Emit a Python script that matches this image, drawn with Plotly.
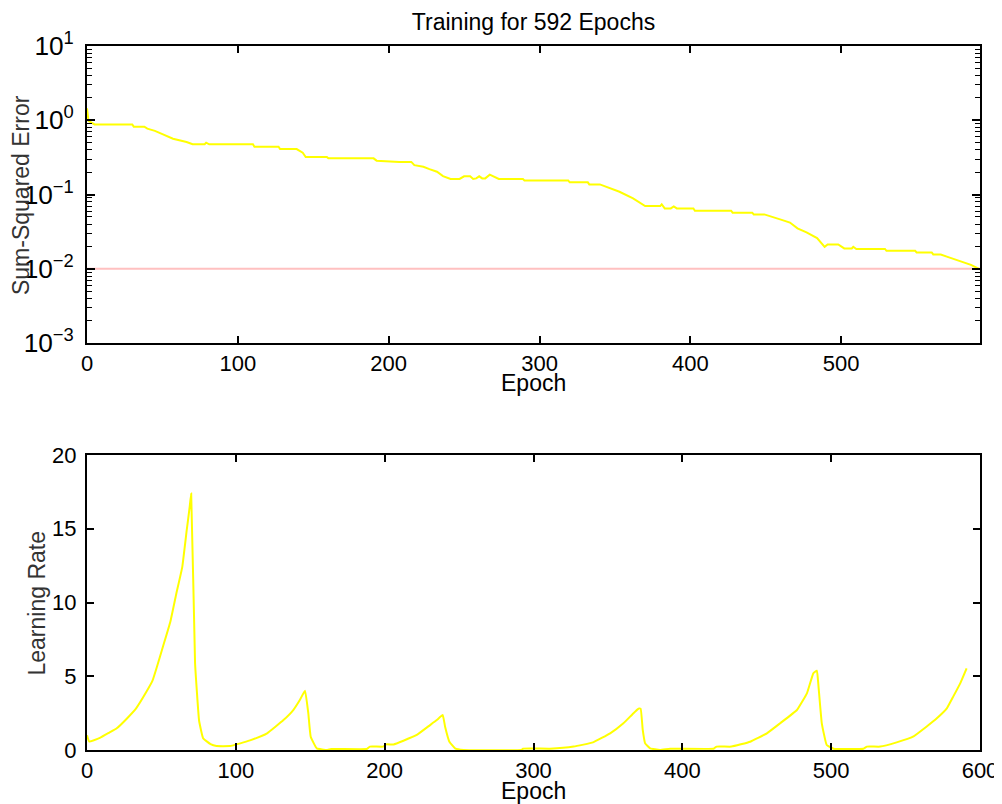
import plotly.graph_objects as go
from plotly.subplots import make_subplots

# Sum-squared error per epoch
err_epochs = [0, 1, 5, 30, 31, 38, 40, 45, 50, 57, 66, 70, 78, 79, 81, 110, 111, 127, 128, 139,
              143, 145, 159, 160, 190, 192, 207, 215, 217, 223, 227, 232, 236, 241, 247, 250, 254,
              256, 258, 260, 262, 264, 267, 270, 273, 289, 290, 319, 320, 332, 333, 340, 347, 353,
              362, 370, 380, 381, 383, 387, 389, 391, 402, 403, 427, 428, 441, 442, 449, 455, 460,
              466, 471, 477, 484, 489, 491, 498, 502, 507, 508, 510, 529, 530, 549, 550, 560, 561,
              566, 570, 575, 580, 586, 592]
err_values = [1.45, 0.98, 0.88, 0.88, 0.82, 0.82, 0.77, 0.72, 0.65, 0.565, 0.51, 0.475, 0.475, 0.50,
              0.475, 0.475, 0.44, 0.44, 0.41, 0.41, 0.366, 0.32, 0.32, 0.307, 0.307, 0.286, 0.275,
              0.275, 0.249, 0.237, 0.22, 0.203, 0.177, 0.162, 0.162, 0.176, 0.176, 0.162, 0.165,
              0.176, 0.165, 0.165, 0.185, 0.175, 0.162, 0.162, 0.155, 0.155, 0.146, 0.146, 0.137,
              0.137, 0.121, 0.109, 0.089, 0.070, 0.070, 0.074, 0.065, 0.065, 0.069, 0.065, 0.065,
              0.0605, 0.0605, 0.057, 0.057, 0.054, 0.054, 0.050, 0.046, 0.042, 0.035, 0.031, 0.026,
              0.0198, 0.0213, 0.0213, 0.0188, 0.0188, 0.0198, 0.0185, 0.0185, 0.0175, 0.0175,
              0.0166, 0.0166, 0.0156, 0.0156, 0.0146, 0.0134, 0.0126, 0.0113, 0.0098]

# Error goal
goal_epochs = [0, 592]
goal_values = [0.01, 0.01]

# Learning rate per epoch
lr_epochs = [0, 1.5, 9, 15, 20, 27, 33, 40, 44, 47, 51, 56, 60, 64, 67, 69, 70, 72.6, 75.3, 78, 83, 87,
             96, 103, 109.5, 121, 132, 138.6, 143, 146.5, 148.7, 150.3, 154.4, 161.5, 164, 188, 190,
             199, 201, 206, 212.6, 221.6, 230.5, 235, 239, 240.6, 243.5, 247.3, 253, 292, 293, 311,
             327, 340, 351.5, 360.4, 367, 370.5, 372, 373.4, 375, 378.4, 385, 391.8, 421, 423, 433,
             445.6, 456.8, 465.7, 477, 483.7, 488, 490.4, 491.5, 493.7, 497, 501.6, 521.7, 524, 533,
             544, 555, 564, 571, 577.7, 582, 586.7, 591]
lr_values = [1.0, 0.57, 0.84, 1.18, 1.47, 2.15, 2.82, 3.96, 4.7, 5.65, 7.0, 8.7, 10.6, 12.4, 14.9, 16.5,
             17.4, 5.9, 2.0, 0.8, 0.4, 0.27, 0.27, 0.45, 0.65, 1.13, 2.03, 2.71, 3.39, 4.02, 2.48,
             0.9, 0.11, 0.0, 0.07, 0.07, 0.23, 0.23, 0.38, 0.38, 0.63, 1.02, 1.69, 2.03, 2.37, 1.58,
             0.56, 0.11, 0.0, 0.0, 0.09, 0.09, 0.23, 0.52, 1.13, 1.81, 2.48, 2.8, 2.8, 1.36, 0.45,
             0.11, 0.0, 0.09, 0.09, 0.23, 0.23, 0.56, 1.13, 1.81, 2.71, 3.84, 5.2, 5.38, 4.3, 1.81,
             0.34, 0.09, 0.09, 0.23, 0.23, 0.52, 0.9, 1.58, 2.15, 2.82, 3.62, 4.52, 5.54]

FONT = "Liberation Sans, Arial, sans-serif"
TICK_SIZE = 22
XTITLE_SIZE = 23
YTITLE_SIZE = 23

fig = make_subplots(rows=2, cols=1, vertical_spacing=0.159)

fig.add_trace(go.Scatter(x=goal_epochs, y=goal_values, mode="lines",
                         line=dict(color="#ffc0c0", width=2), showlegend=False), row=1, col=1)
fig.add_trace(go.Scatter(x=err_epochs, y=err_values, mode="lines",
                         line=dict(color="#ffff00", width=2), showlegend=False), row=1, col=1)
fig.add_trace(go.Scatter(x=lr_epochs, y=lr_values, mode="lines",
                         line=dict(color="#ffff00", width=2, shape="spline", smoothing=0.3),
                         showlegend=False), row=2, col=1)

axis_common = dict(showgrid=False, zeroline=False, showline=True, linecolor="black", linewidth=2,
                   mirror="ticks", ticks="inside", tickcolor="black", tickwidth=1.5, automargin=False,
                   tickfont=dict(family=FONT, size=TICK_SIZE, color="black"))

fig.update_xaxes(**axis_common)
fig.update_yaxes(**axis_common)

fig.update_xaxes(range=[0, 592], tickvals=[0, 100, 200, 300, 400, 500], ticklen=7, row=1, col=1)
fig.update_xaxes(range=[0, 600], tickvals=[0, 100, 200, 300, 400, 500, 600], ticklen=7, row=2, col=1)

fig.update_yaxes(type="log", range=[-3, 1], dtick=1, tick0=0, exponentformat="power", ticklen=8,
                 labelalias={"1": "10<sup>0</sup>", "10": "10<sup>1</sup>"},
                 ticklabelstandoff=7, tickfont=dict(family=FONT, size=21, color="black"),
                 minor=dict(ticks="inside", ticklen=5, tickcolor="black", tickwidth=1.2, showgrid=False),
                 domain=[0.578, 1], row=1, col=1)
fig.update_yaxes(range=[0, 20], tickvals=[0, 5, 10, 15, 20], ticklen=7,
                 ticklabelstandoff=4, domain=[0, 0.419], row=2, col=1)

# Axis titles as annotations for exact placement
titles = [
    dict(text="Epoch", x=0.5, y=0.5213, textangle=0, size=XTITLE_SIZE, color="black"),
    dict(text="Epoch", x=0.5, y=-0.0582, textangle=0, size=XTITLE_SIZE, color="black"),
    dict(text="Sum-Squared Error", x=-0.0745, y=0.789, textangle=-90, size=YTITLE_SIZE, color="#333"),
    dict(text="Learning Rate", x=-0.056, y=0.2095, textangle=-90, size=YTITLE_SIZE, color="#333"),
]
for t in titles:
    fig.add_annotation(text=t["text"], x=t["x"], y=t["y"], xref="paper", yref="paper",
                       xanchor="center", yanchor="middle", textangle=t["textangle"], showarrow=False,
                       font=dict(family=FONT, size=t["size"], color=t["color"]))

fig.update_layout(
    width=994, height=796,
    margin=dict(l=79, r=22, t=38, b=54, autoexpand=False),
    paper_bgcolor="white", plot_bgcolor="white",
    title=dict(text="Training for 592 Epochs", x=0.5, xref="paper", xanchor="center",
               y=1 - 14 / 796, yanchor="middle", font=dict(family=FONT, size=23, color="black")),
    font=dict(family=FONT, color="black"),
)

fig.write_html("out.html")
